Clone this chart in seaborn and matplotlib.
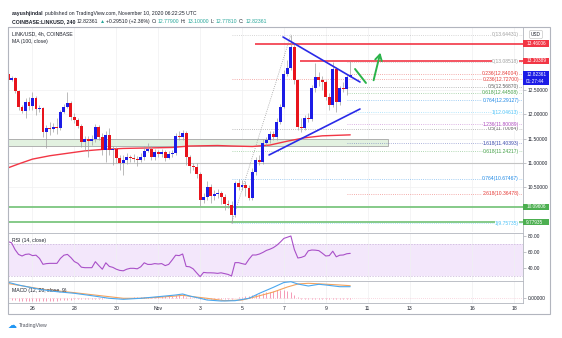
import matplotlib
matplotlib.use("Agg")
import matplotlib.pyplot as plt
from matplotlib.patches import Rectangle
from matplotlib.transforms import blended_transform_factory
import matplotlib.dates as mdates
import numpy as np
import pandas as pd
import seaborn as sns

# ---------------- data ----------------
first_bar = "2020-10-24 20:00"          # 4h candles
opens = [12.835, 12.711, 12.753, 12.485, 12.155, 12.072, 12.258, 12.175, 12.340, 12.113,
         12.134, 11.639, 11.722, 11.711, 11.732, 11.715, 12.052, 12.155, 12.237, 11.948,
         11.887, 11.763, 11.433, 11.495, 11.454, 11.495, 11.742, 11.536, 11.268, 11.577,
         11.268, 11.289, 11.103, 11.000, 11.062, 11.124, 11.103, 11.082, 11.062, 11.124,
         11.247, 11.289, 11.124, 11.227, 11.186, 11.227, 11.103, 11.186, 11.206, 11.557,
         11.536, 11.619, 11.124, 10.938, 10.918, 10.773, 10.237, 10.299, 10.505, 10.320,
         10.361, 10.381, 10.299, 10.155, 10.134, 9.928, 10.588, 10.505, 10.546, 10.485,
         10.278, 10.814, 11.062, 11.021, 11.412, 11.474, 11.598, 11.536, 11.845, 12.155,
         12.835, 12.959, 13.392, 12.711, 11.742, 11.722, 11.928, 11.907, 12.546, 12.773,
         12.711, 12.670, 12.361, 12.196, 12.938, 12.258, 12.546, 12.526, 12.779]
closes = [12.711, 12.753, 12.485, 12.155, 12.072, 12.258, 12.175, 12.340, 12.113, 12.134,
          11.639, 11.722, 11.711, 11.732, 11.715, 12.052, 12.155, 12.237, 11.948, 11.887,
          11.763, 11.433, 11.495, 11.454, 11.495, 11.742, 11.536, 11.268, 11.577, 11.268,
          11.289, 11.103, 11.000, 11.062, 11.124, 11.103, 11.082, 11.062, 11.124, 11.247,
          11.289, 11.124, 11.227, 11.186, 11.227, 11.103, 11.186, 11.206, 11.557, 11.536,
          11.619, 11.124, 10.938, 10.918, 10.773, 10.237, 10.299, 10.505, 10.320, 10.361,
          10.381, 10.299, 10.155, 10.134, 9.928, 10.588, 10.505, 10.546, 10.485, 10.278,
          10.814, 11.062, 11.021, 11.412, 11.474, 11.598, 11.536, 11.845, 12.155, 12.835,
          12.959, 13.392, 12.711, 11.742, 11.722, 11.928, 11.907, 12.546, 12.773, 12.711,
          12.670, 12.361, 12.196, 12.938, 12.258, 12.546, 12.526, 12.779, 12.82361]
highs = [12.876, 12.794, 12.773, 12.505, 12.196, 12.340, 12.361, 12.464, 12.381, 12.196,
         12.155, 11.784, 11.845, 11.825, 11.928, 12.093, 12.216, 12.464, 12.278, 12.031,
         11.928, 11.804, 11.557, 11.557, 11.577, 11.804, 11.784, 11.619, 11.660, 11.722,
         11.351, 11.330, 11.165, 11.165, 11.206, 11.165, 11.186, 11.144, 11.206, 11.351,
         11.412, 11.351, 11.289, 11.268, 11.289, 11.268, 11.247, 11.268, 11.619, 11.660,
         11.680, 11.660, 11.165, 11.000, 11.000, 10.814, 10.381, 10.629, 10.567, 10.443,
         10.464, 10.423, 10.361, 10.237, 10.216, 10.629, 10.670, 10.649, 10.629, 10.546,
         10.897, 11.124, 11.165, 11.495, 11.536, 11.660, 11.660, 11.928, 12.216, 12.917,
         13.124, 13.64431, 13.454, 12.732, 11.928, 11.990, 12.031, 12.608, 13.062, 12.876,
         12.794, 12.711, 12.443, 13.08518, 12.979, 12.588, 12.670, 12.835, 13.10000]
lows = [12.670, 12.691, 12.443, 12.093, 12.031, 11.928, 12.093, 12.093, 11.990, 12.052,
        11.536, 11.309, 11.577, 11.639, 11.598, 11.680, 12.031, 12.134, 11.887, 11.825,
        11.722, 11.330, 11.268, 11.124, 11.371, 11.433, 11.474, 11.165, 11.021, 11.165,
        10.959, 11.000, 10.856, 10.753, 10.979, 11.021, 11.021, 10.938, 11.021, 11.062,
        11.227, 11.062, 11.062, 11.124, 11.124, 11.041, 11.082, 11.124, 11.165, 11.474,
        11.474, 10.959, 10.794, 10.856, 10.691, 10.113, 10.175, 10.237, 10.175, 10.237,
        10.278, 10.155, 10.031, 10.072, 9.75735, 9.887, 10.443, 10.443, 10.320, 10.237,
        10.237, 10.753, 10.959, 10.979, 11.351, 11.412, 11.474, 11.474, 11.804, 12.134,
        12.794, 12.917, 12.629, 11.680, 11.639, 11.680, 11.845, 11.866, 12.464, 12.588,
        12.505, 12.299, 12.093, 12.155, 12.04613, 12.196, 12.464, 12.402, 12.77810]

ma_bars = [0, 3, 7, 12, 17, 22, 27, 33, 40, 47, 52, 60, 64, 70, 75, 80, 85, 90, 98]
ma_vals = [10.90, 10.98, 11.08, 11.15, 11.20, 11.25, 11.28, 11.30, 11.31, 11.32,
           11.35, 11.36, 11.35, 11.34, 11.37, 11.45, 11.52, 11.56, 11.58]

rsi_vals = [73, 71.5, 63, 57, 55, 57, 57.5, 55.5, 56, 52,
            44.6, 45.5, 45.8, 45.8, 45.8, 52, 56, 57, 53, 48,
            45.8, 41, 40.4, 40.4, 40.4, 47.9, 43, 38.5, 46.5, 42,
            40.8, 38.5, 37, 36.5, 38.5, 39.6, 39.6, 39, 41.5, 46.5,
            44.5, 44.5, 45.5, 45, 45.5, 43, 44.5, 50, 56, 55.5,
            57.5, 42, 41.5, 39, 34, 29.2, 34.5, 34, 34, 33.8,
            33.3, 34, 33, 32, 30, 46.7, 46.7, 45.5, 44.5, 51,
            56.25, 56.25, 57.5, 59.5, 62, 63.5, 65.5, 68.5, 72.5, 77,
            78.5, 80, 63, 52.5, 53.3, 55, 61.5, 62.5, 62.3, 61.7,
            58.5, 55, 55.5, 61, 54, 56, 56.25, 57.8, 58.3]

macd_bars = [0, 3, 9, 14, 19, 24, 29, 33, 38, 43, 48, 50, 52, 55, 57, 61, 65, 69,
             72, 76, 79, 81, 83, 86, 89, 91, 95, 98]
macd_vals = [0.157, 0.13, 0.087, 0.063, 0.047, 0.023, -0.003, -0.013, -0.003, 0.013,
             0.03, 0.04, 0.02, -0.003, -0.02, -0.03, -0.027, -0.003, 0.047, 0.107,
             0.155, 0.163, 0.14, 0.12, 0.137, 0.13, 0.113, 0.113]
signal_bars = [0, 10, 19, 29, 33, 38, 43, 48, 50, 53, 57, 62, 67, 71, 76, 80, 83, 86,
               90, 95, 98]
signal_vals = [0.145, 0.087, 0.053, 0.013, -0.003, -0.003, 0.007, 0.02, 0.027, 0.013,
               -0.003, -0.027, -0.02, 0.013, 0.06, 0.11, 0.14, 0.147, 0.14, 0.13, 0.123]
hist_vals = [-0.010, -0.015, -0.020, -0.025, -0.028, -0.028, -0.028, -0.028, -0.028, -0.028,
             -0.030, -0.030, -0.030, -0.028, -0.025, -0.022, -0.020, -0.018, -0.015, -0.012,
             -0.010, -0.010, -0.008, -0.008, -0.006, -0.006, -0.005, -0.005, -0.004, -0.004,
             -0.003, -0.003, -0.002, -0.002, 0.002, 0.004, 0.006, 0.008, 0.010, 0.012,
             0.012, 0.014, 0.014, 0.016, 0.018, 0.018, 0.020, 0.024, 0.028, 0.030,
             0.026, 0.015, 0.008, 0.003, -0.004, -0.008, -0.010, -0.012, -0.012, -0.014,
             -0.014, -0.012, -0.010, -0.008, -0.005, 0.004, 0.008, 0.012, 0.016, 0.020,
             0.030, 0.038, 0.045, 0.052, 0.058, 0.064, 0.070, 0.076, 0.082, 0.085,
             0.075, 0.060, 0.030, 0.010, -0.005, -0.008, -0.010, -0.010, -0.008, -0.008,
             -0.008, -0.008, -0.008, -0.008, -0.008, -0.008, -0.008, -0.008, -0.008]

fib1_start = "2020-11-04 12:00"
fib1_end = "2020-11-07 08:00"
fib1_levels = [13.64431, 12.72700, 11.70084, 11.24217, 10.67467, 9.75735]
fib1_labels = ["0(13.64431)", "0.236(12.72700)", "0.5(11.70084)", "0.618(11.24217)",
               "0.764(10.67467)", "1(9.75735)"]
fib1_colors = ["#9e9e9e", "#e53935", "#616161", "#43a047", "#1e88e5", "#4fc3f7"]
fib2_start = "2020-11-10 00:00"
fib2_levels = [13.08518, 12.84004, 12.56870, 12.44508, 12.29127, 12.04613, 11.80089,
               11.40393, 10.36478]
fib2_labels = ["0(13.08518)", "0.236(12.84004)", "0.5(12.56870)", "0.618(12.44508)",
               "0.764(12.29127)", "1(12.04613)", "1.236(11.80089)", "1.618(11.40393)",
               "2.618(10.36478)"]
fib2_colors = ["#9e9e9e", "#e53935", "#616161", "#43a047", "#1e88e5", "#4fc3f7",
               "#ab47bc", "#3949ab", "#e53935"]

red_levels = [13.46006, 13.10389]
red_labels = ["13.46006", "13.10389"]
red_starts = ["2020-11-05 15:00", "2020-11-07 18:30"]
green_levels = [10.09606, 9.77935]
green_labels = ["10.09606", "9.77935"]
zone_low, zone_high, zone_end = 11.35, 11.495, "2020-11-11 23:00"
level_11 = 11.0

down_line_t = ["2020-11-06 23:00", "2020-11-10 15:10"]
down_line_p = [13.598, 12.670]
up_line_t = ["2020-11-06 07:00", "2020-11-10 15:10"]
up_line_p = [11.165, 12.113]
arrow1_t = ["2020-11-10 09:30", "2020-11-10 22:00"]
arrow1_p = [12.938, 12.650]
arrow2_t = ["2020-11-11 06:00", "2020-11-11 15:15"]
arrow2_p = [12.650, 13.330]

price_ticks = [10.5, 11.0, 11.5, 12.0, 12.5]
rsi_ticks = [40, 60, 80]
date_ticks = ["2020-10-26", "2020-10-28", "2020-10-30", "2020-11-01", "2020-11-03",
              "2020-11-05", "2020-11-07", "2020-11-09", "2020-11-11", "2020-11-13",
              "2020-11-16", "2020-11-18"]
date_labels = ["26", "28", "30", "Nov", "3", "5", "7", "9", "11", "13", "16", "18"]
x_range = ["2020-10-24 19:56", "2020-11-18 09:55"]

# ---------------- style ----------------
sns.set_theme(style="white")
plt.rcParams['font.family'] = ['Liberation Sans', 'DejaVu Sans']
FS = 3.7
TXT = '#1e222d'
GRID = '#f0f0f2'
SPINE = '#b2b5be'
BLUE = '#1c1ce6'
RED = '#e8141c'

W, H = 562, 338
fig = plt.figure(figsize=(W / 100, H / 100), dpi=100)
fig.patch.set_facecolor('white')


def frac(x0, y0, x1, y1):
    return [x0 / W, 1 - y1 / H, (x1 - x0) / W, (y1 - y0) / H]


ax = fig.add_axes(frac(8, 27, 523, 232))
ax_rsi = fig.add_axes(frac(8, 233, 523, 280), sharex=ax)
ax_macd = fig.add_axes(frac(8, 281, 523, 303), sharex=ax)

d2n = lambda s: mdates.date2num(pd.to_datetime(s))
times = pd.date_range(first_bar, periods=len(closes), freq="4h")
df = pd.DataFrame({"x": mdates.date2num(times), "open": opens, "high": highs,
                   "low": lows, "close": closes, "rsi": rsi_vals, "macd_hist": hist_vals})

# ---------------- main price panel ----------------
ax.set_xlim(d2n(x_range[0]), d2n(x_range[1]))
ax.set_ylim(9.577, 13.804)

ax.add_patch(Rectangle((d2n(x_range[0]), zone_low), d2n(zone_end) - d2n(x_range[0]),
                       zone_high - zone_low, fc='#e2f1e0', ec='#a5a5a5', lw=0.6, zorder=1))
ax.axhline(level_11, color='#c4c4c4', lw=0.8, zorder=1)
for v in green_levels:
    ax.axhline(v, color='#7cc67f', lw=1.3, zorder=2)
for v, s in zip(red_levels, red_starts):
    ax.hlines(v, d2n(s), d2n(x_range[1]), color='#f23645', lw=1.2, zorder=2)

tr_main = blended_transform_factory(ax.transAxes, ax.transData)
for levels, labels, colors, start in ((fib1_levels, fib1_labels, fib1_colors, fib1_start),
                                      (fib2_levels, fib2_labels, fib2_colors, fib2_start)):
    for v, lab, c in zip(levels, labels, colors):
        ax.hlines(v, d2n(start), d2n(x_range[1]), color=c, lw=0.6, alpha=0.55,
                  linestyles=(0, (1, 1.6)), zorder=2)
        ax.text(0.992, v, lab, transform=tr_main, ha='right', va='center',
                fontsize=FS - 0.1, color=c, zorder=6,
                bbox=dict(fc='white', ec='none', pad=0.0))
ax.plot([d2n(fib1_start), d2n(fib1_end)], [fib1_levels[-1], fib1_levels[0]],
        color='#9e9e9e', lw=0.6, ls=(0, (1, 1.6)), zorder=2)

sns.lineplot(x=df.x.iloc[ma_bars].values, y=ma_vals, ax=ax, color='#f23645', lw=1.0,
             legend=False, errorbar=None, zorder=3)

up = df.close >= df.open
ax.vlines(df.x, df.low, df.high, color='#a0a0a0', lw=0.5, zorder=4)
ax.bar(df.x, (df.close - df.open).abs().clip(lower=0.01),
       bottom=df[["open", "close"]].min(axis=1), width=0.14,
       color=np.where(up, BLUE, RED), linewidth=0, zorder=5)

ax.plot(d2n(down_line_t), down_line_p, color='#2a2ae8', lw=1.2, zorder=6)
ax.plot(d2n(up_line_t), up_line_p, color='#2a2ae8', lw=1.2, zorder=6)
ax.plot(d2n(arrow1_t), arrow1_p, color='#2bb34a', lw=1.4, zorder=6)
ax.annotate("", xy=(d2n(arrow2_t[1]), arrow2_p[1]), xytext=(d2n(arrow2_t[0]), arrow2_p[0]),
            arrowprops=dict(arrowstyle='->,head_length=0.35,head_width=0.2',
                            color='#2bb34a', lw=1.4), zorder=6)

ax.text(0.008, 0.965, "LINK/USD, 4h, COINBASE", transform=ax.transAxes, fontsize=FS,
        color=TXT, va='center')
ax.text(0.008, 0.93, "MA (100, close)", transform=ax.transAxes, fontsize=FS,
        color=TXT, va='center')

ax.yaxis.tick_right()
ax.set_yticks(price_ticks)
ax.set_yticklabels([f"{v:.5f}" for v in price_ticks])


def tag(axis, y, text, fc, h_px, px_per_unit):
    tr = blended_transform_factory(axis.transAxes, axis.transData)
    hh = h_px / 2 / px_per_unit
    axis.add_patch(Rectangle((1.0, y - hh), 26 / 515, 2 * hh, transform=tr, fc=fc,
                             ec='none', clip_on=False, zorder=10))
    axis.text(1.006, y, text, transform=tr, fontsize=FS - 0.3, color='white',
              va='center', ha='left', clip_on=False, zorder=11)


ppu = 205 / (13.804 - 9.577)
for v, s in zip(red_levels, red_labels):
    tag(ax, v, s, '#f23645', 6.5, ppu)
tag(ax, closes[-1], f"{closes[-1]:.5f}", BLUE, 6.5, ppu)
tag(ax, closes[-1] - 7 / ppu, "01:27:44", BLUE, 6.5, ppu)
for v, s in zip(green_levels, green_labels):
    tag(ax, v, s, '#4caf50', 6.5, ppu)

# ---------------- RSI panel ----------------
ax_rsi.set_ylim(25, 83.75)
ax_rsi.axhspan(30, 70, color='#f3e7fb', zorder=0, lw=0)
for v in (30, 70):
    ax_rsi.axhline(v, color='#c7b3d8', lw=0.5, ls=(0, (2, 2)), zorder=1)
sns.lineplot(data=df, x="x", y="rsi", ax=ax_rsi, color='#a950c8', lw=0.8,
             legend=False, errorbar=None, zorder=3)
ax_rsi.yaxis.tick_right()
ax_rsi.set_yticks(rsi_ticks)
ax_rsi.set_yticklabels([f"{v:.2f}" for v in rsi_ticks])
ax_rsi.text(0.008, 0.84, "RSI (14, close)", transform=ax_rsi.transAxes, fontsize=FS,
            color=TXT, va='center')

# ---------------- MACD panel ----------------
ax_macd.set_ylim(-0.05, 0.17)
ax_macd.axhline(0, color='#f3b6c6', lw=0.5, ls=(0, (1, 2)), zorder=1)
ax_macd.vlines(df["x"].values, 0, df["macd_hist"].values, color='#f59ab6', lw=0.7, zorder=2)
sns.lineplot(x=df.x.iloc[signal_bars].values, y=signal_vals, ax=ax_macd,
             color='#f5a25d', lw=0.8, legend=False, errorbar=None, zorder=3)
sns.lineplot(x=df.x.iloc[macd_bars].values, y=macd_vals, ax=ax_macd,
             color='#4aa8f0', lw=0.8, legend=False, errorbar=None, zorder=4)
ax_macd.yaxis.tick_right()
ax_macd.set_yticks([0])
ax_macd.set_yticklabels(["0.00000"])
ax_macd.text(0.008, 0.55, "MACD (12, 26, close, 9)", transform=ax_macd.transAxes,
             fontsize=FS, color=TXT, va='center')

# ---------------- shared axis styling ----------------
ax_macd.set_xticks(d2n(date_ticks))
ax_macd.set_xticklabels(date_labels)
for a in (ax, ax_rsi, ax_macd):
    a.set_xlabel("")
    a.set_ylabel("")
    a.set_facecolor('white')
    a.grid(True, color=GRID, lw=0.5, zorder=0)
    a.set_axisbelow(True)
    a.tick_params(axis='y', labelsize=FS - 0.2, length=2, width=0.4, color='#9598a1',
                  pad=1.6, labelcolor=TXT, right=True, left=False)
    for side in ('left', 'right', 'top', 'bottom'):
        a.spines[side].set_color(SPINE)
        a.spines[side].set_linewidth(0.6)
    a.spines['bottom'].set_visible(a is ax_macd)
for a in (ax, ax_rsi):
    a.tick_params(axis='x', labelbottom=False, length=0)
ax_macd.tick_params(axis='x', labelsize=FS, length=0, pad=2.2, labelcolor=TXT)
ax_rsi.grid(False, axis='y')
ax_macd.grid(False, axis='y')

fig.add_artist(Rectangle((8 / W, 1 - 314 / H), 542 / W, 287 / H, transform=fig.transFigure,
                         fill=False, ec=SPINE, lw=0.8))
fig.text(536 / W, 1 - 34.5 / H, "USD", fontsize=FS - 0.3, color=TXT, ha='center',
         va='center', bbox=dict(boxstyle='round,pad=0.35', fc='white', ec='#c8c8c8', lw=0.5))

# ---------------- header ----------------
renderer = fig.canvas.get_renderer()


def seq_text(x_px, y_px, parts, gap=1.4):
    x = x_px
    for s, kw in parts:
        t = fig.text(x / W, 1 - y_px / H, s, va='center', ha='left', fontsize=FS, **kw)
        x += t.get_window_extent(renderer).width + gap


TEAL = '#26a69a'
seq_text(12, 14, [("aayushjindal", dict(fontweight='bold', color=TXT)),
                  ("published on TradingView.com, November 10, 2020 06:22:25 UTC",
                   dict(color=TXT))])
seq_text(12, 21.5, [("COINBASE:LINKUSD, 240", dict(fontweight='bold', color=TXT)),
                    ("12.82361", dict(color=TXT)),
                    ("▲", dict(color=TEAL)),
                    ("+0.29510 (+2.36%)", dict(color=TXT)),
                    ("O:", dict(color=TXT)), ("12.77900", dict(color=TEAL)),
                    ("H:", dict(color=TXT)), ("13.10000", dict(color=TEAL)),
                    ("L:", dict(color=TXT)), ("12.77810", dict(color=TEAL)),
                    ("C:", dict(color=TXT)), ("12.82361", dict(color=TEAL))])

fig.text(8 / W, 1 - 325 / H, "☁", fontsize=6.5, color='#2196f3', va='center', ha='left',
         family='DejaVu Sans')
fig.text(19 / W, 1 - 325.5 / H, "TradingView", fontsize=FS, color='#50535e', va='center',
         ha='left')

fig.savefig("out.png", dpi=100, facecolor='white')
